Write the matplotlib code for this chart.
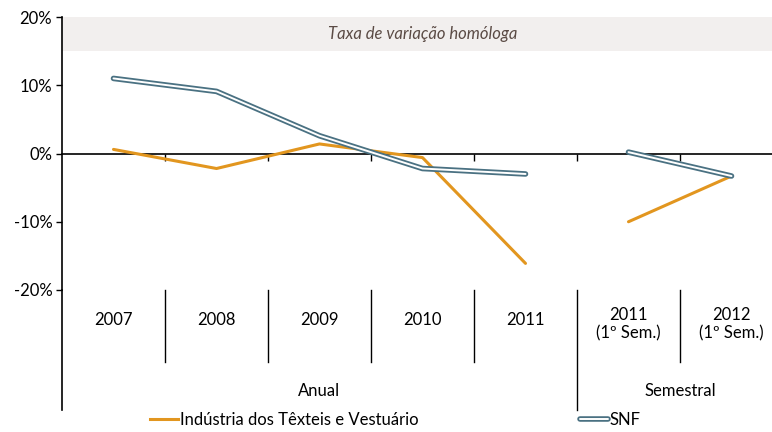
import numpy as np
import matplotlib
matplotlib.use('Agg')
import matplotlib.pyplot as plt
import matplotlib.patheffects as pe
from matplotlib.lines import Line2D

plt.rcParams['font.family'] = ['Lato', 'DejaVu Sans']

# Categories (annual + semester)
categories = ['2007', '2008', '2009', '2010', '2011', '2011\n(1º Sem.)', '2012\n(1º Sem.)']
groups = ['Anual', 'Semestral']
n_annual = 5

# Year-on-year change (%)
textil = [0.6, -2.2, 1.4, -0.6, -16.1, -10.0, -3.3]
snf = [11.0, 9.1, 2.6, -2.2, -3.0, 0.2, -3.3]

orange = '#E2961F'
blue = '#4A7182'
fs = 12

# double line look for SNF: blue outline with white core
snf_fx = [pe.Stroke(linewidth=4.0, foreground=blue, capstyle='round', joinstyle='round'),
          pe.Normal()]

fig = plt.figure(figsize=(7.72, 4.32), dpi=100)
ax = fig.add_axes([62 / 772, (432 - 290) / 432, 721 / 772, 273 / 432])

x = np.arange(len(categories))

# shaded header band
ax.axhspan(15, 20, color='#F2EFEE', zorder=0, lw=0)
ax.text(3.0, 17.5, 'Taxa de variação homóloga', ha='center', va='center',
        style='italic', fontsize=fs, color='#5B4B45')

# lines: annual and semester segments drawn separately
for sl in (slice(0, n_annual), slice(n_annual, len(categories))):
    ax.plot(x[sl], textil[sl], color=orange, lw=2.2, solid_capstyle='round', zorder=3)
    ax.plot(x[sl], snf[sl], color='white', lw=1.4, solid_capstyle='round',
            solid_joinstyle='round', zorder=4, path_effects=snf_fx)

ax.set_xlim(-0.5, len(categories) - 0.5)
ax.set_ylim(-20, 20)
ax.set_yticks([-20, -10, 0, 10, 20])
ax.set_yticklabels([f'{v}%' for v in [-20, -10, 0, 10, 20]])
ax.tick_params(axis='y', direction='out', length=4, width=1, labelsize=fs, pad=3)

# category axis at zero
for s in ['top', 'right']:
    ax.spines[s].set_visible(False)
ax.spines['bottom'].set_position(('data', 0))
ax.spines['bottom'].set_linewidth(1.2)
ax.spines['left'].set_linewidth(1.2)
ax.set_xticks(np.arange(0.5, len(categories) - 1, 1.0))
ax.set_xticklabels([])
ax.tick_params(axis='x', direction='out', length=5, width=1)

# multi-level category table below plot
tr = ax.get_xaxis_transform()
lvl1 = -72 / 273
lvl2 = -120 / 273
for b in np.arange(0.5, len(categories) - 1, 1.0):
    bottom = lvl2 if b == n_annual - 0.5 else lvl1
    ax.plot([b, b], [0, bottom], transform=tr, color='black', lw=1, clip_on=False)
ax.plot([-0.5, -0.5], [0, lvl2], transform=tr, color='black', lw=1.2, clip_on=False)

for i, lab in enumerate(categories):
    ax.text(i, -30 / 273 if '\n' not in lab else -34 / 273, lab, transform=tr,
            ha='center', va='center', fontsize=fs, linespacing=1.15)
ax.text((n_annual - 1) / 2, -101 / 273, groups[0], transform=tr,
        ha='center', va='center', fontsize=fs)
ax.text((n_annual + len(categories) - 1) / 2, -101 / 273, groups[1], transform=tr,
        ha='center', va='center', fontsize=fs)

# legend (two entries placed separately)
h1 = Line2D([], [], color=orange, lw=2.2)
h2 = Line2D([], [], color='white', lw=1.4, solid_capstyle='round', path_effects=snf_fx)
leg_kw = dict(frameon=False, fontsize=fs, loc='center left', borderpad=0,
              borderaxespad=0, handlelength=1.7, handletextpad=0.1)
leg1 = fig.legend([h1], ['Indústria dos Têxteis e Vestuário'],
                  bbox_to_anchor=(150 / 772, 1 - 420 / 432), **leg_kw)
leg2 = fig.legend([h2], ['SNF'],
                  bbox_to_anchor=(580 / 772, 1 - 420 / 432), **leg_kw)

fig.savefig('out.png', dpi=100)
